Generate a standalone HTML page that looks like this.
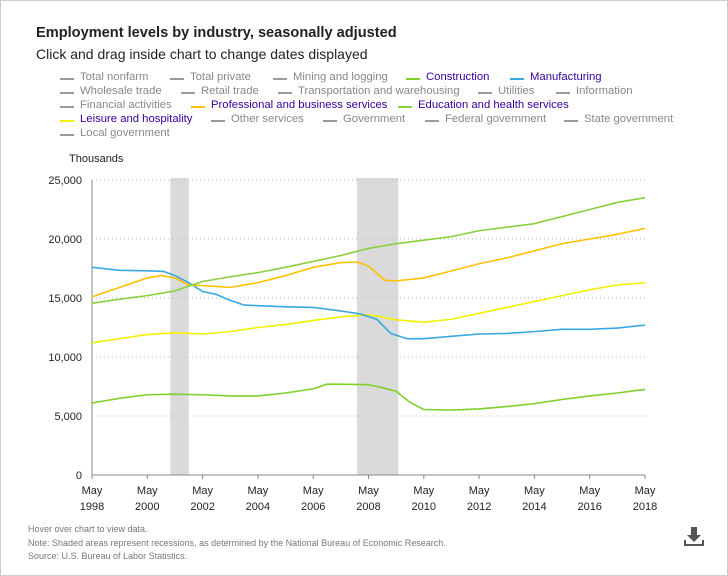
<!DOCTYPE html>
<html><head><meta charset="utf-8"><style>
body{margin:0;background:#fff;font-family:"Liberation Sans",sans-serif;}
#wrap{position:relative;width:726px;height:574px;border:1px solid #ccc;overflow:hidden}
.t{position:absolute;white-space:nowrap}
.leg{position:absolute;font-size:11.3px;color:#888;white-space:nowrap;cursor:pointer}
.leg i{position:absolute;left:-20px;top:7px;width:14px;height:2px;background:#999}
.leg.on{color:#330099}
</style></head><body>
<div id="wrap">
<div class="t" style="left:35px;top:24px;font-size:14.6px;font-weight:bold;color:#222">Employment levels by industry, seasonally adjusted</div>
<div class="t" style="left:35px;top:45px;font-size:14px;color:#222">Click and drag inside chart to change dates displayed</div>
<div id="legend"></div>
<div class="t" style="left:68px;top:152px;font-size:11px;color:#222">Thousands</div>
<svg id="chart" width="728" height="520" style="position:absolute;left:0;top:0"></svg>
<div class="t" style="left:27px;top:523px;font-size:9px;color:#777">Hover over chart to view data.</div>
<div class="t" style="left:27px;top:537px;font-size:9px;color:#777">Note: Shaded areas represent recessions, as determined by the National Bureau of Economic Research.</div>
<div class="t" style="left:27px;top:550px;font-size:9px;color:#777">Source: U.S. Bureau of Labor Statistics.</div>
<svg width="22" height="22" style="position:absolute;left:682px;top:525px" viewBox="0 0 22 22"><path d="M8 1h6v8h4l-7 7-7-7h4z" fill="#555"/><path d="M1 14v6h20v-6h-2v4H3v-4z" fill="#555"/></svg>
</div>
<script>
const legendRows=[
[["Total nonfarm",0,79],["Total private",0,189],["Mining and logging",0,292],["Construction","#7fd02a",425],["Manufacturing","#3aa8de",529]],
[["Wholesale trade",0,79],["Retail trade",0,200],["Transportation and warehousing",0,297],["Utilities",0,497],["Information",0,575]],
[["Financial activities",0,79],["Professional and business services","#ffc000",210],["Education and health services","#8ccf3c",417]],
[["Leisure and hospitality","#f2f200",79],["Other services",0,230],["Government",0,342],["Federal government",0,444],["State government",0,583]],
[["Local government",0,79]]];
const L=document.getElementById('legend');
legendRows.forEach((row,ri)=>{row.forEach(([name,c,x])=>{
 const d=document.createElement('div');d.className='leg'+(c?' on':'');
 
 
 d.style.left=x+'px';d.style.top=(70+ri*14)+'px';
 d.innerHTML='<i style="background:'+(c||'#999')+'"></i>'+name;L.appendChild(d);});});

const years=[1998,1999,2000,2001,2002,2003,2004,2005,2006,2007,2008,2009,2010,2011,2012,2013,2014,2015,2016,2017,2018];
const mfgX=[0,1,2,2.6,3,3.5,4,4.5,5,5.5,6,7,8,9,9.7,10.3,10.8,11.4,12,13,14,15,16,17,18,19,20];
const mfgV=[17600,17350,17300,17250,16900,16300,15550,15300,14800,14400,14350,14250,14200,13900,13650,13200,12000,11550,11550,11750,11950,12000,12150,12350,12350,12450,12700];
const eduV=[14550,14900,15200,15600,16400,16800,17150,17600,18100,18600,19200,19600,19900,20200,20700,21000,21300,21900,22500,23100,23500];
const proX=[0,1,2,2.5,3,3.5,4,5,6,7,8,9,9.6,10,10.6,11,12,13,14,15,16,17,18,19,20];
const proV=[15100,15900,16700,16900,16700,16100,16050,15900,16300,16900,17600,18000,18050,17700,16500,16450,16700,17300,17900,18400,19000,19600,20000,20400,20900];
const leiV=[11200,11550,11900,12050,11950,12150,12500,12750,13100,13400,13600,13150,12950,13200,13700,14200,14700,15200,15700,16100,16300];
const conX=[0,1,2,3,4,5,6,7,8,8.5,9,10,10.5,11,11.5,12,13,14,15,16,17,18,19,20];
const conV=[6100,6500,6800,6850,6800,6700,6700,6950,7300,7700,7700,7650,7400,7100,6150,5550,5500,5600,5800,6050,6400,6700,6950,7250];
const yTicks=[0,5000,10000,15000,20000,25000];
const xYears=[1998,2000,2002,2004,2006,2008,2010,2012,2014,2016,2018];
const recessions=[[2.83,3.5],[9.58,11.08]];

const X0=91,X1=644,Y0=474,Y1=179;
const sx=t=>X0+(X1-X0)*t/20, sy=v=>Y0-(Y0-Y1)*v/25000;
const svg=document.getElementById('chart'),NS='http://www.w3.org/2000/svg';
function el(tag,a,name){const e=document.createElementNS(NS,tag);for(const k in a)e.setAttribute(k,a[k]);
 
 
 svg.appendChild(e);return e;}
recessions.forEach(r=>el('rect',{x:sx(r[0]),y:Y1-2,width:sx(r[1])-sx(r[0]),height:Y0-Y1+2,fill:'#dadada'},'recession-band'));
yTicks.forEach(v=>{if(v>0)el('line',{x1:X0,x2:X1,y1:sy(v),y2:sy(v),stroke:'#bbb','stroke-dasharray':'1,3'},'gridline');
 const t=el('text',{x:X0-10,y:sy(v)+4,'text-anchor':'end','font-size':11,fill:'#222','font-family':'Liberation Sans'},'y-tick-label');t.textContent=v.toLocaleString('en-US');});
el('line',{x1:X0,x2:X0,y1:Y1,y2:Y0,stroke:'#888'},'y-axis');
el('line',{x1:X0,x2:X1,y1:Y0,y2:Y0,stroke:'#888'},'x-axis');
xYears.forEach(y=>{const x=sx(y-1998);el('line',{x1:x,x2:x,y1:Y0,y2:Y0+4,stroke:'#888'},'x-tick');
 let t=el('text',{x:x,y:Y0+19,'text-anchor':'middle','font-size':11,fill:'#222','font-family':'Liberation Sans'},'x-tick-label');t.textContent='May';
 t=el('text',{x:x,y:Y0+35,'text-anchor':'middle','font-size':11,fill:'#222','font-family':'Liberation Sans'},'x-tick-label');t.textContent=y;});
function line(xs,vs,c,name){el('polyline',{points:xs.map((t,i)=>sx(t)+','+sy(vs[i])).join(' '),fill:'none',stroke:c,'stroke-width':1.6,'stroke-linejoin':'round'},name);}
const yx=years.map(y=>y-1998);
line(conX,conV,'#7fd02a','construction-line');
line(yx,leiV,'#f2f200','leisure-line');
line(mfgX,mfgV,'#3aa8de','manufacturing-line');
line(proX,proV,'#ffc000','professional-line');
line(yx,eduV,'#8ccf3c','education-line');
</script>
</body></html>
